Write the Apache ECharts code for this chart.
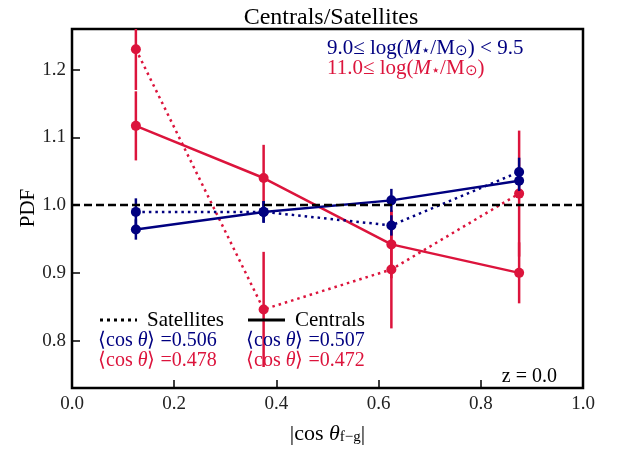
<!DOCTYPE html>
<html>
<head>
<meta charset="utf-8">
<script src="https://cdn.jsdelivr.net/npm/echarts@6/dist/echarts.min.js"></script>
<style>html,body{margin:0;padding:0;background:#fff}#c{width:617px;height:450px}</style>
</head>
<body>
<div id="c"></div>
<script>
// ---- data ----
const binCenters = [0.125, 0.375, 0.625, 0.875];
// 11.0 <= log M (crimson)
const satHigh = [1.230, 0.846, 0.905, 1.017];
const satHighErr = [0.060, 0.085, 0.087, 0.093];
const cenHigh = [1.117, 1.040, 0.942, 0.900];
const cenHighErr = [0.051, 0.049, 0.050, 0.045];
// 9.0 <= log M < 9.5 (navy)
const satLow = [0.990, 0.990, 0.970, 1.049];
const satLowErr = [0.020, 0.016, 0.015, 0.021];
const cenLow = [0.964, 0.990, 1.007, 1.036];
const cenLowErr = [0.015, 0.016, 0.017, 0.015];
const xTicks = [0.0, 0.2, 0.4, 0.6, 0.8, 1.0];
const yTicks = [0.8, 0.9, 1.0, 1.1, 1.2];
const meanCos = {satLow: '0.506', cenLow: '0.507', satHigh: '0.478', cenHigh: '0.472'};

const RED = '#dc143c', BLUE = '#000080';
const FONT = 'Liberation Serif';

function pts(ys) { return binCenters.map((x, i) => [x, ys[i]]); }
function errData(ys, es) { return binCenters.map((x, i) => [x, ys[i] - es[i], ys[i] + es[i]]); }

function lineSeries(ys, color, dotted, z) {
  return {
    type: 'line', data: pts(ys), symbol: 'circle', symbolSize: 10,
    itemStyle: {color: color}, z: z,
    lineStyle: {color: color, width: 2.5, type: dotted ? [2.5, 4] : 'solid', cap: 'butt'},
    animation: false, silent: true
  };
}
function errSeries(ys, es, color, z) {
  return {
    type: 'custom', data: errData(ys, es), clip: true, z: z, animation: false, silent: true,
    renderItem: function (params, api) {
      const p1 = api.coord([api.value(0), api.value(1)]);
      const p2 = api.coord([api.value(0), api.value(2)]);
      return {type: 'line', shape: {x1: p1[0], y1: p1[1], x2: p2[0], y2: p2[1]},
        style: {stroke: color, lineWidth: 2.5}};
    }
  };
}

function txt(x, y, text, color, size, align, rich, vAlign) {
  return {type: 'text', x: x, y: y, z: 100,
    style: {text: text, fill: color, fontFamily: FONT, fontSize: size,
      align: align || 'left', textAlign: align || 'left',
      verticalAlign: vAlign || 'middle', textVerticalAlign: vAlign || 'middle', rich: rich}};
}
function cosRich(color) {
  return {
    a: {fontFamily: FONT, fontSize: 20, fill: color, color: color},
    i: {fontFamily: FONT, fontSize: 20, fontStyle: 'italic', fill: color, color: color}
  };
}
function massRich(color) {
  return {
    n: {fontFamily: FONT, fontSize: 21, color: color, verticalAlign: 'bottom', lineHeight: 22},
    i: {fontFamily: FONT, fontSize: 21, fontStyle: 'italic', color: color, verticalAlign: 'bottom', lineHeight: 22},
    s: {fontFamily: FONT, fontSize: 15, color: color, verticalAlign: 'bottom', lineHeight: 17}
  };
}

const chart = echarts.init(document.getElementById('c'), null, {renderer: 'canvas'});
chart.setOption({
  animation: false,
  backgroundColor: '#fff',
  title: {text: 'Centrals/Satellites', left: 326, top: 1, textAlign: 'center',
    textStyle: {fontFamily: FONT, fontSize: 24, fontWeight: 'normal', color: '#000'}},
  grid: {left: 72, right: 34, top: 29, bottom: 56, show: true, borderColor: '#000', borderWidth: 2.5, backgroundColor: 'transparent'},
  xAxis: {
    type: 'value', min: 0, max: 1, interval: 0.2,
    name: '{a||cos }{i|θ}{s|f−g}{a||}', nameLocation: 'middle', nameGap: 33,
    nameTextStyle: {rich: {
      a: {fontFamily: FONT, fontSize: 22, color: '#000', verticalAlign: 'bottom', lineHeight: 24},
      i: {fontFamily: FONT, fontSize: 22, fontStyle: 'italic', color: '#000', verticalAlign: 'bottom', lineHeight: 24},
      s: {fontFamily: FONT, fontSize: 15, color: '#000', verticalAlign: 'bottom', lineHeight: 18}
    }},
    axisLine: {show: false}, splitLine: {show: false},
    axisTick: {show: true, inside: true, length: 8, lineStyle: {color: '#000', width: 1.5}, customValues: xTicks},
    axisLabel: {customValues: xTicks, margin: 7, fontFamily: FONT, fontSize: 19, color: '#222', formatter: v => v.toFixed(1)}
  },
  yAxis: {
    type: 'value', min: 0.73, max: 1.26,
    axisLine: {show: false}, splitLine: {show: false},
    axisTick: {show: true, inside: true, length: 8, lineStyle: {color: '#000', width: 1.5}, customValues: yTicks},
    axisLabel: {customValues: yTicks, margin: 6, fontFamily: FONT, fontSize: 19, color: '#222', formatter: v => v.toFixed(1)}
  },
  series: [
    errSeries(satHigh, satHighErr, RED, 2),
    lineSeries(satHigh, RED, true, 3),
    errSeries(cenHigh, cenHighErr, RED, 2),
    lineSeries(cenHigh, RED, false, 3),
    errSeries(satLow, satLowErr, BLUE, 4),
    lineSeries(satLow, BLUE, true, 5),
    errSeries(cenLow, cenLowErr, BLUE, 4),
    lineSeries(cenLow, BLUE, false, 5),
    {type: 'line', data: [[0, 1.0], [1, 1.0]], symbol: 'none', z: 6, animation: false, silent: true,
      lineStyle: {color: '#000', width: 2.5, type: [8, 4]}}
  ],
  graphic: [
    {type: 'text', x: 28, y: 208, rotation: Math.PI / 2, z: 100,
      style: {text: 'PDF', fill: '#000', fontFamily: FONT, fontSize: 21,
        align: 'center', textAlign: 'center', verticalAlign: 'middle', textVerticalAlign: 'middle'}},
    txt(327, 48, '{n|9.0≤ log(}{i|M}{s|⋆}{n|/M}{s|⊙}{n|) < 9.5}', BLUE, 21, 'left', massRich(BLUE)),
    txt(327, 68, '{n|11.0≤ log(}{i|M}{s|⋆}{n|/M}{s|⊙}{n|)}', RED, 21, 'left', massRich(RED)),
    {type: 'line', z: 100, shape: {x1: 100, y1: 320, x2: 137, y2: 320}, style: {stroke: '#000', lineWidth: 3, lineDash: [3, 4]}},
    txt(147, 320, 'Satellites', '#000', 21),
    {type: 'line', z: 100, shape: {x1: 248, y1: 320, x2: 285, y2: 320}, style: {stroke: '#000', lineWidth: 3}},
    txt(295, 320, 'Centrals', '#000', 21),
    txt(98, 341, '{a|⟨cos }{i|θ}{a|⟩ =' + meanCos.satLow + '}', BLUE, 20, 'left', cosRich(BLUE)),
    txt(246, 341, '{a|⟨cos }{i|θ}{a|⟩ =' + meanCos.cenLow + '}', BLUE, 20, 'left', cosRich(BLUE)),
    txt(98, 361, '{a|⟨cos }{i|θ}{a|⟩ =' + meanCos.satHigh + '}', RED, 20, 'left', cosRich(RED)),
    txt(246, 361, '{a|⟨cos }{i|θ}{a|⟩ =' + meanCos.cenHigh + '}', RED, 20, 'left', cosRich(RED)),
    txt(557, 377, 'z = 0.0', '#000', 20, 'right')
  ]
});
</script>
</body>
</html>
